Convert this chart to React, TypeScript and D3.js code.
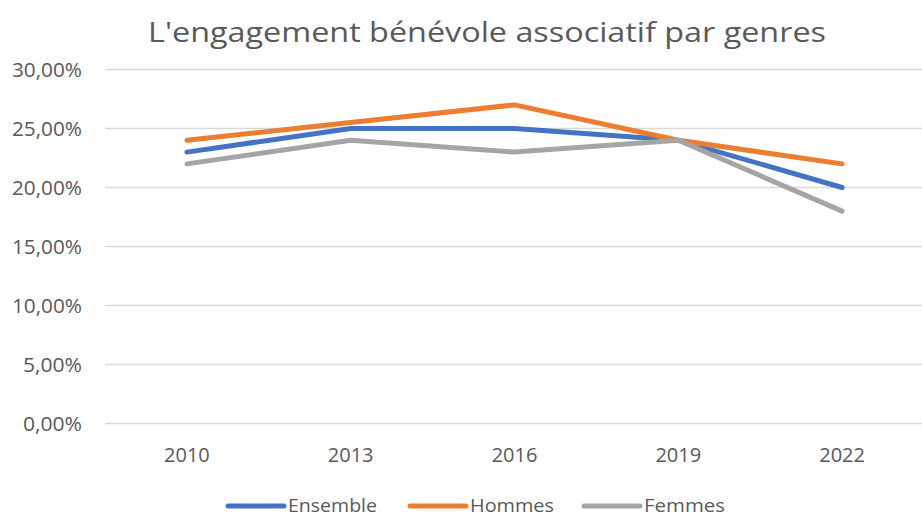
import React from "react";
import * as d3 from "d3";

const years = ["2010", "2013", "2016", "2019", "2022"];
const ensemble = [0.23, 0.25, 0.25, 0.24, 0.2];
const hommes = [0.24, 0.255, 0.27, 0.24, 0.22];
const femmes = [0.22, 0.24, 0.23, 0.24, 0.18];
const yTicks = [0, 0.05, 0.1, 0.15, 0.2, 0.25, 0.3];
const seriesNames = ["Ensemble", "Hommes", "Femmes"];
const seriesColors = ["#4472C4", "#ED7D31", "#A5A5A5"];

export default function App() {
  const W = 922, H = 516;
  const x = d3.scaleBand().domain(years).range([105, 924]);
  const y = d3.scaleLinear().domain([0, 0.3]).range([423.5, 69.5]);
  const line = d3
    .line<number>()
    .x((_, i) => (x(years[i]) as number) + x.bandwidth() / 2)
    .y((d) => y(d));
  const fmt = (v: number) => (v * 100).toFixed(2).replace(".", ",") + "%";
  const data = [ensemble, hommes, femmes];
  const font = "Open Sans, sans-serif";
  const legendX = [228, 410, 584];
  const legendW = [89, 84, 81];
  return (
    <svg width={W} height={H} style={{ position: "absolute", left: 0, top: 0, background: "#fff" }}>
      <text x={487} y={42} textAnchor="middle" fontFamily={font} fontSize={28} fill="#595959" textLength={678} lengthAdjust="spacingAndGlyphs">
        L'engagement bénévole associatif par genres
      </text>
      {yTicks.map((t) => {
        const label = fmt(t);
        return (
          <g key={t}>
            <line x1={105} x2={922} y1={y(t)} y2={y(t)} stroke="#D9D9D9" strokeWidth={1.5} />
            <text x={82} y={y(t) + 7.5} textAnchor="end" fontFamily={font} fontSize={20} fill="#595959" textLength={label.length === 6 ? 70 : 59} lengthAdjust="spacingAndGlyphs">
              {label}
            </text>
          </g>
        );
      })}
      {years.map((yr) => (
        <text key={yr} x={(x(yr) as number) + x.bandwidth() / 2} y={462} textAnchor="middle" fontFamily={font} fontSize={20} fill="#595959">
          {yr}
        </text>
      ))}
      {data.map((d, i) => (
        <path key={i} d={line(d) || ""} fill="none" stroke={seriesColors[i]} strokeWidth={5} strokeLinecap="round" strokeLinejoin="round" />
      ))}
      {seriesNames.map((n, i) => (
        <g key={n}>
          <line x1={legendX[i]} x2={legendX[i] + 56} y1={506} y2={506} stroke={seriesColors[i]} strokeWidth={5} strokeLinecap="round" />
          <text x={legendX[i] + 60} y={511.5} fontFamily={font} fontSize={18.5} fill="#595959" textLength={legendW[i]} lengthAdjust="spacingAndGlyphs">
            {n}
          </text>
        </g>
      ))}
    </svg>
  );
}
